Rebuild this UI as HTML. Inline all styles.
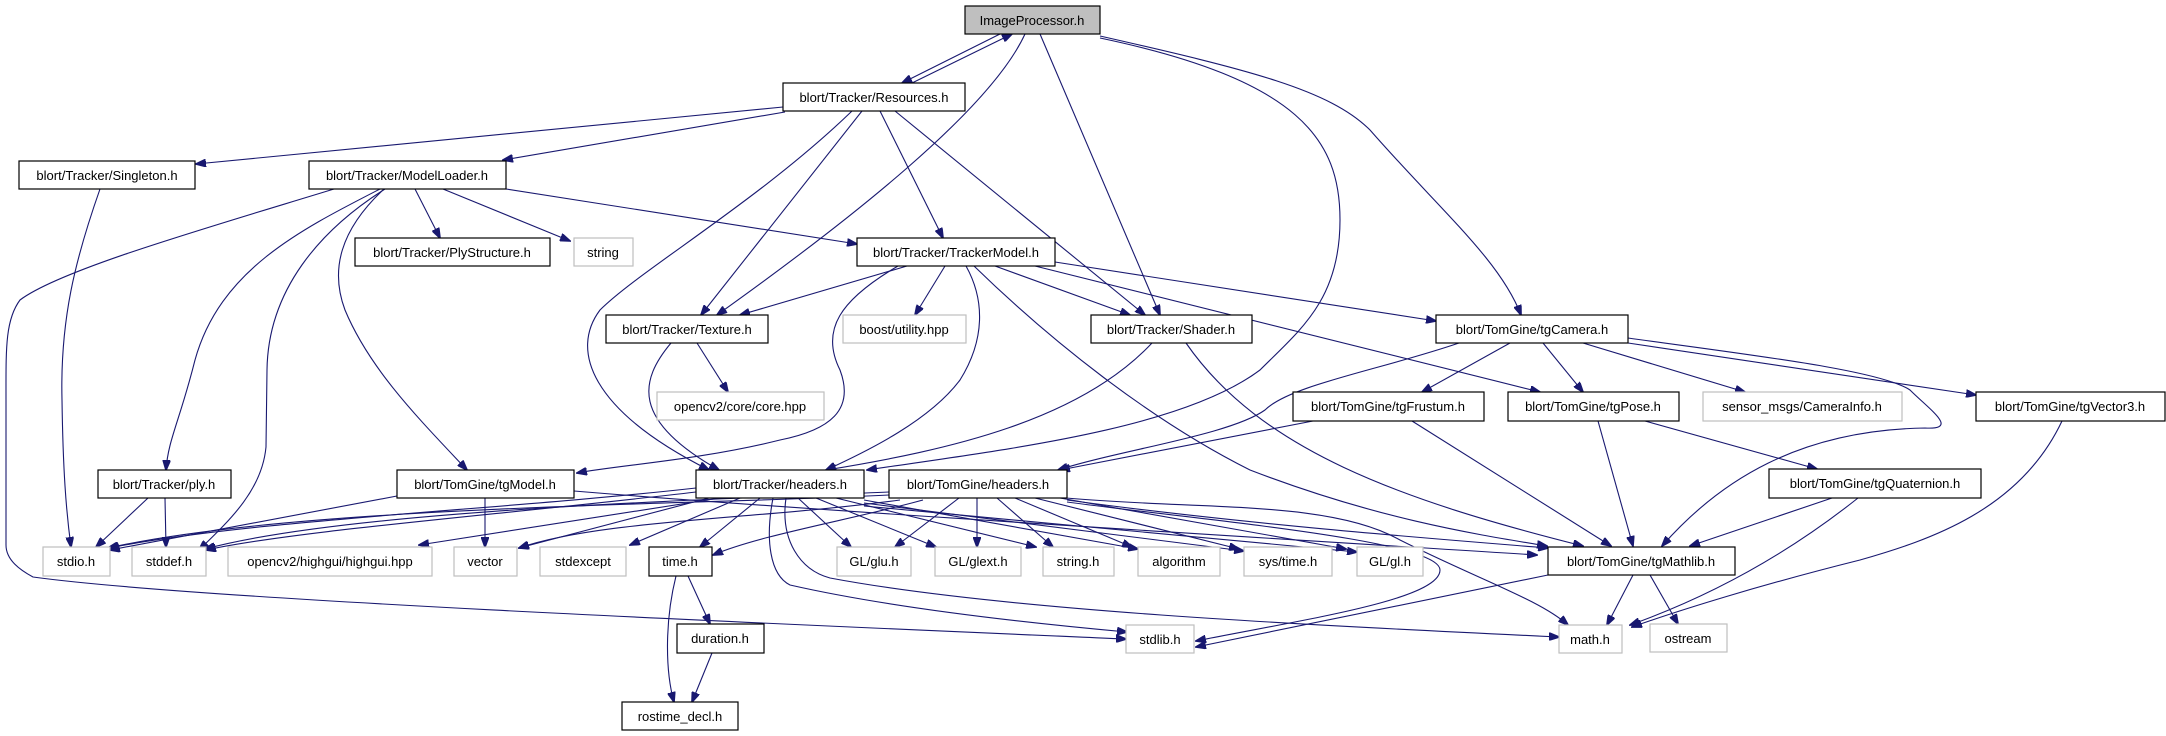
<!DOCTYPE html>
<html><head><meta charset="utf-8"><style>
html,body{margin:0;padding:0;background:#fff;}
svg{display:block;}
text{font-family:"Liberation Sans",sans-serif;font-size:13px;fill:#000;text-anchor:middle;}
.e{fill:none;stroke:#191970;stroke-width:1.1;marker-end:url(#a);}
.b{fill:#fff;stroke:#000;stroke-width:1.2;}
.g{fill:#fff;stroke:#bfbfbf;stroke-width:1.2;}
</style></head><body>
<svg width="2166" height="736" viewBox="0 0 2166 736" xmlns="http://www.w3.org/2000/svg">
<defs><marker id="a" markerUnits="userSpaceOnUse" markerWidth="11" markerHeight="8" refX="10" refY="4" orient="auto"><path d="M0,0 L11,4 L0,8 z" fill="#191970" stroke="#191970"/></marker></defs>
<g>
<path class="e" d="M1000,34 L902,83"/>
<path class="e" d="M912,83 L1012,34"/>
<path class="e" d="M1025,34 C990,110 850,220 717,315"/>
<path class="e" d="M1040,34 L1160,315"/>
<path class="e" d="M1100,38 C1300,80 1340,140 1340,220 C1340,300 1300,330 1260,370 C1180,430 1000,450 867,470"/>
<path class="e" d="M1100,36 C1250,70 1330,90 1370,130 C1440,210 1500,260 1521,315"/>
<path class="e" d="M783,107 L196,164"/>
<path class="e" d="M785,112 L503,160"/>
<path class="e" d="M862,111 L701,315"/>
<path class="e" d="M852,111 C760,200 640,270 600,310 C570,350 590,410 709,470"/>
<path class="e" d="M880,111 L943,238"/>
<path class="e" d="M895,111 L1145,315"/>
<path class="e" d="M415,189 L440,238"/>
<path class="e" d="M443,189 L570,241"/>
<path class="e" d="M506,189 L857,244"/>
<path class="e" d="M334,189 C200,230 60,270 20,300 C5,320 6,350 6,400 L6,545 C6,560 20,570 33,577 C200,600 800,625 1126,639"/>
<path class="e" d="M380,189 C300,230 220,270 195,360 C180,420 168,440 166,470"/>
<path class="e" d="M385,189 C320,230 268,290 267,370 L266,447 C262,490 230,520 199,550"/>
<path class="e" d="M384,189 C340,230 330,270 345,310 C370,370 420,420 467,470"/>
<path class="e" d="M100,189 C75,260 60,320 62,400 C63,470 66,510 71,547"/>
<path class="e" d="M907,266 L740,315"/>
<path class="e" d="M945,266 L915,315"/>
<path class="e" d="M995,266 L1130,315"/>
<path class="e" d="M1055,262 L1436,321"/>
<path class="e" d="M1035,266 L1540,392"/>
<path class="e" d="M898,266 C840,300 820,330 840,370 C855,410 830,430 780,440 C700,460 620,465 577,473"/>
<path class="e" d="M966,266 C985,300 985,340 960,380 C930,420 870,450 826,470"/>
<path class="e" d="M974,266 C1050,340 1150,420 1250,470 C1380,520 1480,535 1547,546"/>
<path class="e" d="M574,491 C800,510 1300,540 1537,555"/>
<path class="e" d="M1152,343 C1080,420 950,450 826,470"/>
<path class="e" d="M1186,343 C1260,450 1400,500 1583,546"/>
<path class="e" d="M671,343 C640,380 630,420 719,470"/>
<path class="e" d="M697,343 L728,392"/>
<path class="e" d="M1459,343 C1380,370 1290,385 1265,410 C1230,435 1120,450 1058,470"/>
<path class="e" d="M1313,421 L1060,470"/>
<path class="e" d="M1510,343 L1422,392"/>
<path class="e" d="M1543,343 L1583,392"/>
<path class="e" d="M1583,343 L1745,392"/>
<path class="e" d="M1628,343 L1976,395"/>
<path class="e" d="M1628,338 C1750,355 1880,370 1910,390 C1930,410 1960,430 1925,428 C1800,430 1720,480 1662,546"/>
<path class="e" d="M1412,421 L1611,546"/>
<path class="e" d="M1598,421 L1633,546"/>
<path class="e" d="M1645,421 L1817,469"/>
<path class="e" d="M1832,498 L1690,546"/>
<path class="e" d="M1858,498 C1780,560 1700,600 1630,625"/>
<path class="e" d="M2062,421 C2020,510 1930,540 1860,560 C1760,585 1680,610 1632,627"/>
<path class="e" d="M1633,575 L1607,625"/>
<path class="e" d="M1650,575 L1678,624"/>
<path class="e" d="M1548,575 L1196,647"/>
<path class="e" d="M1067,500 C1250,525 1450,540 1548,548"/>
<path class="e" d="M959,498 L895,547"/>
<path class="e" d="M977,498 L977,547"/>
<path class="e" d="M997,498 L1053,547"/>
<path class="e" d="M1015,498 L1132,547"/>
<path class="e" d="M1035,498 L1239,549"/>
<path class="e" d="M1060,498 L1346,549"/>
<path class="e" d="M1067,502 C1200,520 1440,540 1440,570 C1440,600 1300,620 1196,641"/>
<path class="e" d="M1066,498 C1200,510 1330,500 1400,540 C1480,580 1540,600 1568,625"/>
<path class="e" d="M923,500 C850,520 760,535 713,555"/>
<path class="e" d="M900,500 C750,520 600,520 519,548"/>
<path class="e" d="M889,495 C700,505 300,505 108,548"/>
<path class="e" d="M889,492 C700,500 350,510 205,549"/>
<path class="e" d="M696,488 C500,510 250,520 109,548"/>
<path class="e" d="M696,492 C500,515 300,530 206,550"/>
<path class="e" d="M709,498 L519,548"/>
<path class="e" d="M740,498 L630,545"/>
<path class="e" d="M760,498 L700,547"/>
<path class="e" d="M720,498 L419,545"/>
<path class="e" d="M773,498 C765,540 770,575 790,585 C900,610 1050,625 1127,632"/>
<path class="e" d="M786,498 C780,540 800,570 830,578 C1000,610 1300,625 1559,637"/>
<path class="e" d="M798,498 L851,547"/>
<path class="e" d="M816,498 L936,547"/>
<path class="e" d="M836,498 L1036,547"/>
<path class="e" d="M864,500 L1138,549"/>
<path class="e" d="M864,503 L1244,551"/>
<path class="e" d="M864,506 L1357,552"/>
<path class="e" d="M397,496 L110,550"/>
<path class="e" d="M485,498 L485,547"/>
<path class="e" d="M148,498 L96,547"/>
<path class="e" d="M165,498 L166,547"/>
<path class="e" d="M688,576 L710,624"/>
<path class="e" d="M676,576 C665,620 665,670 674,702"/>
<path class="e" d="M712,653 L692,702"/>
</g>
<g>
<rect x="965" y="6" width="135" height="28" fill="#bfbfbf" stroke="#000" stroke-width="1.2"/><text x="1032" y="25">ImageProcessor.h</text>
<rect class="b" x="783" y="83" width="182" height="28"/><text x="874" y="102">blort/Tracker/Resources.h</text>
<rect class="b" x="19" y="161" width="176" height="28"/><text x="107" y="180">blort/Tracker/Singleton.h</text>
<rect class="b" x="309" y="161" width="197" height="28"/><text x="407" y="180">blort/Tracker/ModelLoader.h</text>
<rect class="b" x="355" y="238" width="195" height="28"/><text x="452" y="257">blort/Tracker/PlyStructure.h</text>
<rect class="g" x="574" y="238" width="59" height="28"/><text x="603" y="257">string</text>
<rect class="b" x="857" y="238" width="198" height="28"/><text x="956" y="257">blort/Tracker/TrackerModel.h</text>
<rect class="b" x="606" y="315" width="162" height="28"/><text x="687" y="334">blort/Tracker/Texture.h</text>
<rect class="g" x="843" y="315" width="123" height="28"/><text x="904" y="334">boost/utility.hpp</text>
<rect class="b" x="1091" y="315" width="161" height="28"/><text x="1171" y="334">blort/Tracker/Shader.h</text>
<rect class="b" x="1436" y="315" width="192" height="28"/><text x="1532" y="334">blort/TomGine/tgCamera.h</text>
<rect class="g" x="657" y="392" width="167" height="28"/><text x="740" y="411">opencv2/core/core.hpp</text>
<rect class="b" x="1293" y="392" width="191" height="29"/><text x="1388" y="411">blort/TomGine/tgFrustum.h</text>
<rect class="b" x="1508" y="392" width="171" height="29"/><text x="1593" y="411">blort/TomGine/tgPose.h</text>
<rect class="g" x="1703" y="392" width="199" height="29"/><text x="1802" y="411">sensor_msgs/CameraInfo.h</text>
<rect class="b" x="1976" y="392" width="189" height="29"/><text x="2070" y="411">blort/TomGine/tgVector3.h</text>
<rect class="b" x="98" y="470" width="133" height="28"/><text x="164" y="489">blort/Tracker/ply.h</text>
<rect class="b" x="397" y="470" width="177" height="28"/><text x="485" y="489">blort/TomGine/tgModel.h</text>
<rect class="b" x="696" y="470" width="168" height="28"/><text x="780" y="489">blort/Tracker/headers.h</text>
<rect class="b" x="889" y="470" width="178" height="28"/><text x="978" y="489">blort/TomGine/headers.h</text>
<rect class="b" x="1769" y="469" width="212" height="29"/><text x="1875" y="488">blort/TomGine/tgQuaternion.h</text>
<rect class="g" x="43" y="547" width="67" height="29"/><text x="76" y="566">stdio.h</text>
<rect class="g" x="132" y="547" width="74" height="29"/><text x="169" y="566">stddef.h</text>
<rect class="g" x="228" y="547" width="204" height="29"/><text x="330" y="566">opencv2/highgui/highgui.hpp</text>
<rect class="g" x="454" y="547" width="63" height="29"/><text x="485" y="566">vector</text>
<rect class="g" x="540" y="547" width="86" height="29"/><text x="583" y="566">stdexcept</text>
<rect class="b" x="649" y="547" width="63" height="29"/><text x="680" y="566">time.h</text>
<rect class="g" x="837" y="547" width="74" height="29"/><text x="874" y="566">GL/glu.h</text>
<rect class="g" x="935" y="547" width="86" height="29"/><text x="978" y="566">GL/glext.h</text>
<rect class="g" x="1043" y="547" width="71" height="29"/><text x="1078" y="566">string.h</text>
<rect class="g" x="1138" y="547" width="82" height="29"/><text x="1179" y="566">algorithm</text>
<rect class="g" x="1244" y="547" width="88" height="29"/><text x="1288" y="566">sys/time.h</text>
<rect class="g" x="1357" y="547" width="66" height="29"/><text x="1390" y="566">GL/gl.h</text>
<rect class="b" x="1548" y="547" width="187" height="28"/><text x="1641" y="566">blort/TomGine/tgMathlib.h</text>
<rect class="b" x="677" y="624" width="87" height="29"/><text x="720" y="643">duration.h</text>
<rect class="g" x="1126" y="625" width="68" height="28"/><text x="1160" y="644">stdlib.h</text>
<rect class="g" x="1559" y="625" width="63" height="28"/><text x="1590" y="644">math.h</text>
<rect class="g" x="1650" y="624" width="77" height="28"/><text x="1688" y="643">ostream</text>
<rect class="b" x="622" y="702" width="116" height="28"/><text x="680" y="721">rostime_decl.h</text>
</g>
</svg>
</body></html>
